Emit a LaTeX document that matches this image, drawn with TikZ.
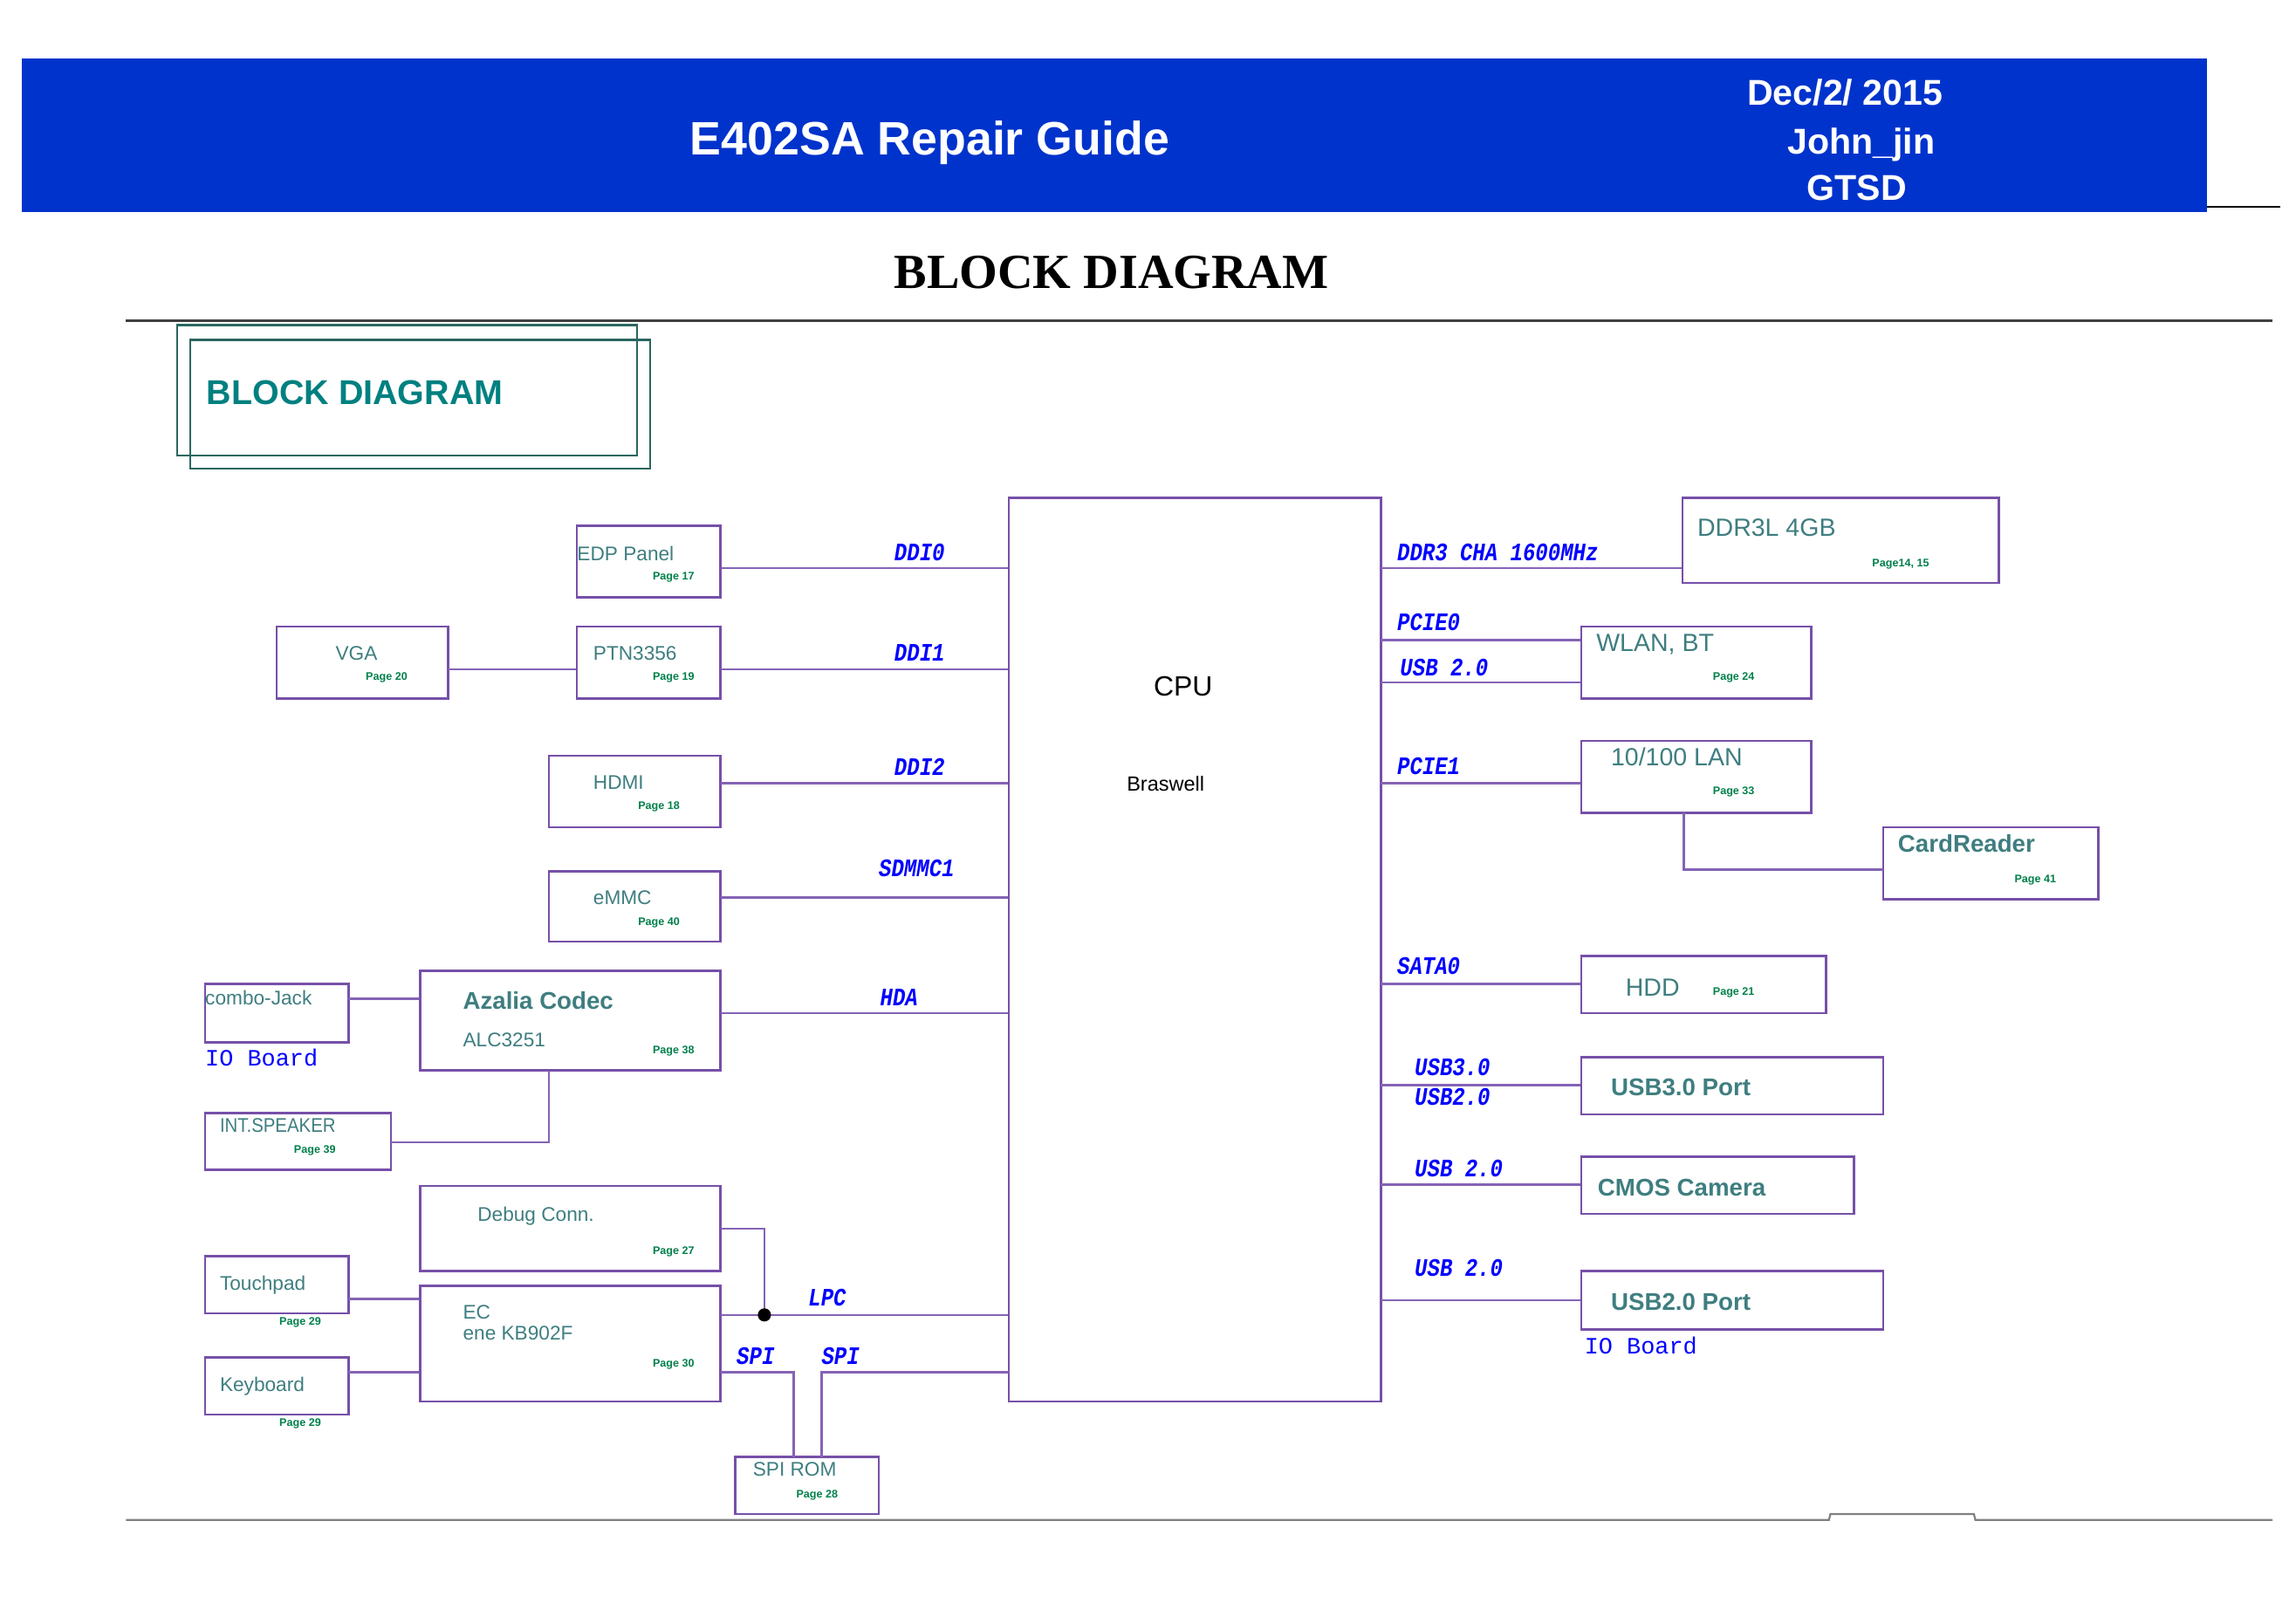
\documentclass[tikz,border=0pt]{standalone}
\usepackage{graphicx}
\usepackage{fontspec}
\setmainfont{Liberation Sans}
\newfontfamily\serifbf{Liberation Serif}
\newfontfamily\monof{Liberation Mono}
\usetikzlibrary{fit}
\definecolor{hdrblue}{HTML}{0033CC}
\definecolor{boxc}{HTML}{7650A8}
\definecolor{wirec}{HTML}{8463B5}
\definecolor{txtc}{HTML}{3F7E80}
\definecolor{pagec}{HTML}{00804A}
\definecolor{lblc}{HTML}{0000FF}
\definecolor{tealt}{HTML}{008080}
\definecolor{tealb}{HTML}{2A665F}
\newcommand{\lb}[1]{\scalebox{1}[1.2]{#1}}
\tikzset{
  box/.style={draw=boxc, line width=1.5pt, inner sep=0pt},
  wire/.style={draw=wirec, line width=1.5pt},
  st/.style={text=txtc, font=\fontsize{13.5}{15}\selectfont, inner sep=0pt, anchor=base west},
  bt/.style={text=txtc, font=\fontsize{17}{19}\selectfont, inner sep=0pt, anchor=base west},
  bbt/.style={text=txtc, font=\fontsize{16.5}{19}\selectfont\bfseries, inner sep=0pt, anchor=base west},
  pg/.style={text=pagec, font=\fontsize{7.5}{8}\selectfont\bfseries, inner sep=0pt},
  lbl/.style={text=lblc, font=\fontsize{14.3}{15}\monof\bfseries\itshape, inner sep=0pt},
  iob/.style={text=lblc, font=\fontsize{16}{17}\monof, inner sep=0pt, anchor=west},
  hdr/.style={text=white, font=\fontsize{24.5}{26}\selectfont\bfseries, inner sep=0, anchor=base},
}
\begin{document}
\begin{tikzpicture}[x=1pt,y=-1pt]
\useasboundingbox (0,0) rectangle (1568,1109);
\fill[white] (0,0) rectangle (1568,1109);
% header
\fill[hdrblue] (15,40) rectangle (1507,145);
\draw[black, line width=1.2pt] (1507,141) -- (1557,141);
\node[text=white, font=\fontsize{32}{34}\selectfont\bfseries, inner sep=0, anchor=base] (title) at (635,106) {E402SA Repair Guide};
\node[hdr] (hdate) at (1260,72) {Dec/2/ 2015};
\node[hdr] (hname) at (1271,105) {John\_jin};
\node[hdr] (hdept) at (1268,137) {GTSD};
\node[text=black, font=\fontsize{33.5}{36}\serifbf\bfseries, inner sep=0, anchor=base] (maintitle) at (759,197) {BLOCK DIAGRAM};
\draw[black!75, line width=2pt] (86,219) -- (1552,219);
\draw[black!50, line width=1.3pt] (86,1038) -- (1249,1038) -- (1250,1034) -- (1348,1034) -- (1349,1038) -- (1552,1038);
% teal title box
\draw[tealb, line width=1.5pt] (121,222) rectangle (435,311);
\draw[tealb, line width=1.5pt] (130,232) rectangle (444,320);
\node[text=tealt, font=\fontsize{23.5}{25}\selectfont\bfseries, inner sep=0, anchor=base west] (bdtitle) at (141,276) {BLOCK DIAGRAM};

% boxes
\node[box, fit={(394,359) (492,408)}] (edp) {};
\node[box, fit={(394,428) (492,477)}] (ptn) {};
\node[box, fit={(189,428) (306,477)}] (vga) {};
\node[box, fit={(375,516) (492,565)}] (hdmi) {};
\node[box, fit={(375,595) (492,643)}] (emmc) {};
\node[box, fit={(140,672) (238,712)}] (combo) {};
\node[box, fit={(287,663) (492,731)}] (azalia) {};
\node[box, fit={(140,760) (267,799)}] (spk) {};
\node[box, fit={(287,810) (492,868)}] (debug) {};
\node[box, fit={(140,858) (238,897)}] (touch) {};
\node[box, fit={(287,878) (492,957)}] (ec) {};
\node[box, fit={(140,927) (238,966)}] (kbd) {};
\node[box, fit={(502,995) (600,1034)}] (spirom) {};
\node[box, fit={(689,340) (943,957)}] (cpu) {};
\node[box, fit={(1149,340) (1365,398)}] (ddr) {};
\node[box, fit={(1080,428) (1237,477)}] (wlan) {};
\node[box, fit={(1080,506) (1237,555)}] (lan) {};
\node[box, fit={(1286,565) (1433,614)}] (card) {};
\node[box, fit={(1080,653) (1247,692)}] (hdd) {};
\node[box, fit={(1080,722) (1286,761)}] (usb3) {};
\node[box, fit={(1080,790) (1266,829)}] (cmos) {};
\node[box, fit={(1080,868) (1286,908)}] (usb2) {};

% box texts
\node[st] (edp-t) at (394,383) {EDP Panel};
\node[st] (ptn-t) at (405,451) {PTN3356};
\node[st] (vga-t) at (229,451) {VGA};
\node[st] (hdmi-t) at (405,539) {HDMI};
\node[st] (emmc-t) at (405,618) {eMMC};
\node[st] (combo-t) at (140,686) {combo-Jack};
\node[bbt] (azalia-t) at (316,689) {Azalia Codec};
\node[st] (azalia-t2) at (316,715) {ALC3251};
\node[st] (spk-t) at (150,773) {\scalebox{0.9}[1]{INT.SPEAKER}};
\node[st] (debug-t) at (326,834) {Debug Conn.};
\node[st] (touch-t) at (150,881) {Touchpad};
\node[st] (ec-t) at (316,901) {EC};
\node[st] (ec-t2) at (316,915) {ene KB902F};
\node[st] (kbd-t) at (150,950) {Keyboard};
\node[st] (spirom-t) at (514,1008) {SPI ROM};
\node[text=black, font=\fontsize{19}{20}\selectfont, inner sep=0] (cpu-t) at (808,469) {CPU};
\node[text=black, font=\fontsize{14}{15}\selectfont, inner sep=0] (cpu-t2) at (796,535) {Braswell};
\node[bt] (ddr-t) at (1159,366) {DDR3L 4GB};
\node[bt] (wlan-t) at (1090,445) {WLAN, BT};
\node[bt] (lan-t) at (1100,523) {10/100 LAN};
\node[bbt] (card-t) at (1296,582) {CardReader};
\node[bt] (hdd-t) at (1110,680) {HDD};
\node[bbt] (usb3-t) at (1100,748) {USB3.0 Port};
\node[bbt] (cmos-t) at (1091,817) {CMOS Camera};
\node[bbt] (usb2-t) at (1100,895) {USB2.0 Port};

% page refs
\node[pg] (p-edp) at (460,394) {Page 17};
\node[pg] (p-ptn) at (460,463) {Page 19};
\node[pg] (p-vga) at (264,463) {Page 20};
\node[pg] (p-hdmi) at (450,551) {Page 18};
\node[pg] (p-emmc) at (450,630) {Page 40};
\node[pg] (p-azalia) at (460,718) {Page 38};
\node[pg] (p-spk) at (215,786) {Page 39};
\node[pg] (p-debug) at (460,855) {Page 27};
\node[pg] (p-touch) at (205,903) {Page 29};
\node[pg] (p-ec) at (460,932) {Page 30};
\node[pg] (p-kbd) at (205,972) {Page 29};
\node[pg] (p-spirom) at (558,1021) {Page 28};
\node[pg] (p-ddr) at (1298,385) {Page14, 15};
\node[pg] (p-wlan) at (1184,463) {Page 24};
\node[pg] (p-lan) at (1184,541) {Page 33};
\node[pg] (p-card) at (1390,601) {Page 41};
\node[pg] (p-hdd) at (1184,678) {Page 21};

\node[iob] (iob1) at (140,722) {IO Board};
\node[iob] (iob2) at (1082,919) {IO Board};

% connector start points
\coordinate (w-edp) at (492,388);
\coordinate (w-vga) at (306,457);
\coordinate (w-ptn) at (492,457);
\coordinate (w-hdmi) at (492,535);
\coordinate (w-emmc) at (492,613);
\coordinate (w-combo) at (238,682);
\coordinate (w-hda) at (492,692);
\coordinate (w-az) at (375,731);
\coordinate (w-spk) at (267,780);
\coordinate (w-dbg) at (492,839);
\coordinate (w-ec) at (492,898);
\coordinate (w-touch) at (238,887);
\coordinate (w-kbd) at (238,937);
\coordinate (w-spi1) at (492,937);
\coordinate (w-rom1) at (542,995);
\coordinate (w-spi2) at (689,937);
\coordinate (w-rom2) at (561,995);
\coordinate (r-ddr) at (943,388);
\coordinate (r-pcie0) at (943,437);
\coordinate (r-usbw) at (943,466);
\coordinate (r-pcie1) at (943,535);
\coordinate (r-lan) at (1150,555);
\coordinate (r-card) at (1286,594);
\coordinate (r-sata) at (943,672);
\coordinate (r-usb3) at (943,741);
\coordinate (r-cmos) at (943,809);
\coordinate (r-usb2) at (943,888);

\coordinate (lpcj) at (522,898);

% connectors
\draw[wire] (w-edp) -- (w-edp -| cpu.west);
\draw[wire] (w-vga) -- (w-vga -| ptn.west);
\draw[wire] (w-ptn) -- (w-ptn -| cpu.west);
\draw[wire] (w-hdmi) -- (w-hdmi -| cpu.west);
\draw[wire] (w-emmc) -- (w-emmc -| cpu.west);
\draw[wire] (w-combo) -- (w-combo -| azalia.west);
\draw[wire] (w-hda) -- (w-hda -| cpu.west);
\draw[wire] (w-az) |- (w-spk);
\draw[wire] (w-dbg) -| (lpcj);
\draw[wire] (w-ec) -- (w-ec -| cpu.west);
\draw[wire] (w-touch) -- (w-touch -| ec.west);
\draw[wire] (w-kbd) -- (w-kbd -| ec.west);
\draw[wire] (w-spi1) -| (w-rom1);
\draw[wire] (w-spi2) -| (w-rom2);
\draw[wire] (r-ddr) -- (r-ddr -| ddr.west);
\draw[wire] (r-pcie0) -- (r-pcie0 -| wlan.west);
\draw[wire] (r-usbw) -- (r-usbw -| wlan.west);
\draw[wire] (r-pcie1) -- (r-pcie1 -| lan.west);
\draw[wire] (r-lan) |- (r-card);
\draw[wire] (r-sata) -- (r-sata -| hdd.west);
\draw[wire] (r-usb3) -- (r-usb3 -| usb3.west);
\draw[wire] (r-cmos) -- (r-cmos -| cmos.west);
\draw[wire] (r-usb2) -- (r-usb2 -| usb2.west);
\node[circle, fill=black, inner sep=0, minimum size=9pt] (lpcdot) at (lpcj) {};

% bus labels
\node[lbl] (l-ddi0) at (628,377) {\lb{DDI0}};
\node[lbl] (l-ddi1) at (628,446) {\lb{DDI1}};
\node[lbl] (l-ddi2) at (628,524) {\lb{DDI2}};
\node[lbl] (l-sdmmc) at (626,593) {\lb{SDMMC1}};
\node[lbl] (l-hda) at (614,681) {\lb{HDA}};
\node[lbl] (l-lpc) at (565,886) {\lb{LPC}};
\node[lbl] (l-spi1) at (516,926) {\lb{SPI}};
\node[lbl] (l-spi2) at (574,926) {\lb{SPI}};
\node[lbl, anchor=west] (l-ddr) at (954,377) {\lb{DDR3 CHA 1600MHz}};
\node[lbl, anchor=west] (l-pcie0) at (954,425) {\lb{PCIE0}};
\node[lbl, anchor=west] (l-usbw) at (956,456) {\lb{USB 2.0}};
\node[lbl, anchor=west] (l-pcie1) at (954,523) {\lb{PCIE1}};
\node[lbl, anchor=west] (l-sata) at (954,660) {\lb{SATA0}};
\node[lbl, anchor=west] (l-usb3) at (966,729) {\lb{USB3.0}};
\node[lbl, anchor=west] (l-usb2a) at (966,749) {\lb{USB2.0}};
\node[lbl, anchor=west] (l-cmos) at (966,798) {\lb{USB 2.0}};
\node[lbl, anchor=west] (l-usb2) at (966,866) {\lb{USB 2.0}};
\end{tikzpicture}
\end{document}
